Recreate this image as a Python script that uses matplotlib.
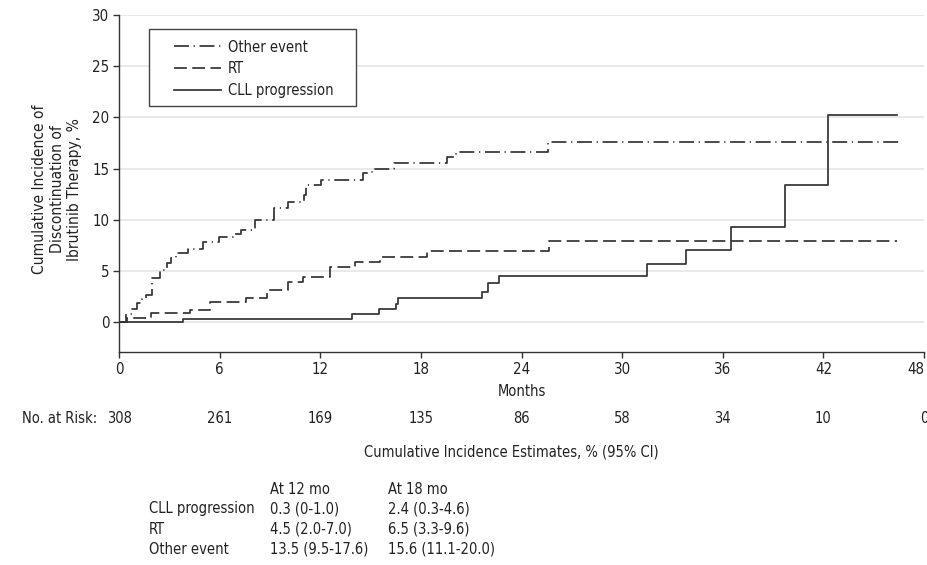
import matplotlib.pyplot as plt
from matplotlib.patches import Rectangle
from matplotlib.transforms import blended_transform_factory

plt.rcParams['font.family'] = ['Liberation Sans Narrow', 'DejaVu Sans']
plt.rcParams['font.stretch'] = 'condensed'
plt.rcParams['font.size'] = 10.5

# step curves (months, cumulative incidence %)
cll_t = [0, 3.84, 13.9, 15.5, 16.5, 16.66, 21.67, 22.0, 22.64, 31.5, 33.8, 36.5, 39.7, 42.3, 46.4]
cll_v = [0, 0.35, 0.8, 1.29, 1.78, 2.33, 3.0, 3.85, 4.48, 5.68, 7.05, 9.33, 13.4, 20.2, 20.2]

rt_t = [0, 0.5, 1.9, 4.23, 5.45, 7.55, 8.8, 10.1, 10.98, 12.6, 14.05, 15.56, 18.35, 25.66, 46.4]
rt_v = [0, 0.42, 0.93, 1.22, 2.02, 2.33, 3.12, 3.9, 4.38, 5.42, 5.9, 6.42, 7.0, 7.93, 7.93]

other_t = [0, 0.4, 0.75, 1.05, 1.35, 1.6, 1.95, 2.45, 2.84, 3.1, 3.4, 4.13, 5.03, 5.95,
           6.82, 7.3, 8.1, 9.25, 10.1, 11.05, 11.15, 12.05, 14.57, 15.07, 16.42,
           19.58, 20.1, 25.6, 46.5]
other_v = [0, 0.83, 1.3, 1.9, 2.3, 2.7, 4.3, 5.06, 5.78, 6.27, 6.8, 7.18, 7.8, 8.3,
           8.64, 9.03, 10.0, 11.2, 11.7, 12.4, 13.4, 13.9, 14.57, 14.96, 15.6,
           16.1, 16.65, 17.65, 17.65]

month_ticks = [0, 6, 12, 18, 24, 30, 36, 42, 48]
at_risk = [308, 261, 169, 135, 86, 58, 34, 10, 0]

table_rows = ['CLL progression', 'RT', 'Other event']
est_12 = ['0.3 (0-1.0)', '4.5 (2.0-7.0)', '13.5 (9.5-17.6)']
est_18 = ['2.4 (0.3-4.6)', '6.5 (3.3-9.6)', '15.6 (11.1-20.0)']

ink = '#333333'
txt = '#222222'

fig = plt.figure(figsize=(9.27, 5.65), dpi=100)
ax = fig.add_axes([119 / 927, 1 - 352 / 565, 805 / 927, 337 / 565])

l_cll, = ax.step(cll_t, cll_v, where='post', color=ink, lw=1.25, label='CLL progression', zorder=2)
l_rt, = ax.step(rt_t, rt_v, where='post', color=ink, lw=1.25, linestyle=(0, (7.4, 3.1)),
                label='RT', zorder=2)
l_oth, = ax.step(other_t, other_v, where='post', color=ink, lw=1.25,
                 linestyle=(0, (8.6, 2.7, 0.7, 2.7)), label='Other event', zorder=2)

ax.set_xlim(0, 48)
ax.set_ylim(-2.9, 30)
ax.set_xticks(month_ticks)
ax.set_yticks(range(0, 31, 5))
ax.grid(axis='y', color='#e3e3e3', lw=1.1, zorder=0)
ax.set_axisbelow(True)
for s in ['top', 'right']:
    ax.spines[s].set_visible(False)
for s in ['left', 'bottom']:
    ax.spines[s].set_color(ink)
    ax.spines[s].set_linewidth(1)
ax.tick_params(direction='out', length=4.5, width=1, color=ink, labelcolor=txt,
               labelsize=10.8, pad=2.5)
# last month label sits at the figure edge
ax.get_xticklabels()[-1].set_horizontalalignment('right')

ax.set_xlabel('Months', color=txt, fontsize=10.5, labelpad=5)
ax.set_ylabel('Cumulative Incidence of\nDiscontinuation of\nIbrutinib Therapy, %',
              color=txt, fontsize=11.2, linespacing=1.2)
ax.yaxis.set_label_coords(-0.046, 0.483)

# legend with its own box
ax.add_patch(Rectangle((0.0373, 0.73), 0.257, 0.2285, transform=ax.transAxes,
                       fc='white', ec='#444444', lw=1, zorder=3))
leg = ax.legend(handles=[l_oth, l_rt, l_cll], loc='upper left',
                bbox_to_anchor=(0.0683, 0.927), frameon=False, borderpad=0,
                borderaxespad=0, handlelength=3.2, handletextpad=0.5,
                labelspacing=0.47, fontsize=10.5)
leg.set_zorder(4)
for t in leg.get_texts():
    t.set_color(txt)

# number at risk
tr = blended_transform_factory(ax.transData, ax.transAxes)
ax.text(-1.3, -0.196, 'No. at Risk:', transform=tr, ha='right', va='center',
        color=txt, clip_on=False)
for m, n in zip(month_ticks, at_risk):
    ax.text(m, -0.196, str(n), transform=tr, ha='center', va='center',
            color=txt, clip_on=False)

fig.text(511 / 927, 1 - 452 / 565, 'Cumulative Incidence Estimates, % (95% CI)',
         ha='center', va='center', color=txt, fontsize=10.5)

col_x = [149 / 927, 270 / 927, 388 / 927]
fig.text(col_x[1], 1 - 490 / 565, 'At 12 mo', va='center', color=txt)
fig.text(col_x[2], 1 - 490 / 565, 'At 18 mo', va='center', color=txt)
for i, name in enumerate(table_rows):
    y = 1 - (509 + 20 * i) / 565
    fig.text(col_x[0], y, name, va='center', color=txt)
    fig.text(col_x[1], y, est_12[i], va='center', color=txt)
    fig.text(col_x[2], y, est_18[i], va='center', color=txt)

fig.savefig('out.png', dpi=100)
